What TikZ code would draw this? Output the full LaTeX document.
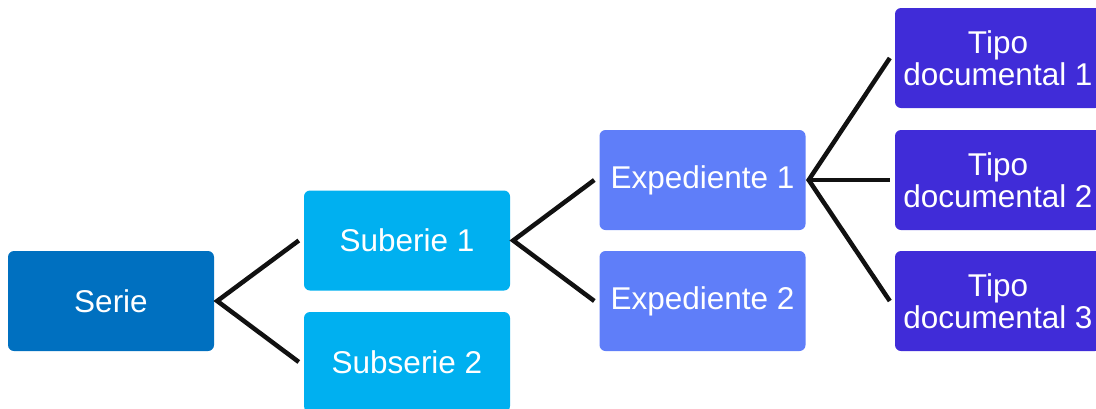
\documentclass[tikz,border=0pt]{standalone}
\usepackage{fontspec}
\setmainfont{Liberation Sans}
\definecolor{cserie}{HTML}{0070C0}
\definecolor{csub}{HTML}{00B0F0}
\definecolor{cexp}{HTML}{5F7EF9}
\definecolor{ctipo}{HTML}{402CD8}
\definecolor{cline}{HTML}{111111}
\tikzset{
  box/.style={minimum width=206pt, minimum height=100pt, inner sep=0pt,
    rounded corners=6pt, text=white, align=center,
    font=\fontsize{31.5}{32}\selectfont},
  conn/.style={draw=cline, line width=4.5pt, line join=miter}
}
\begin{document}
\begin{tikzpicture}[x=1pt,y=-1pt]
\useasboundingbox (0,0) rectangle (1096,408);
\node[box, fill=cserie] (serie) at (111,301) {Serie};
\node[box, fill=csub] (sub1) at (407,240.5) {Suberie 1};
\node[box, fill=csub] (sub2) at (407,362) {Subserie 2};
\node[box, fill=cexp] (exp1) at (702.5,180) {Expediente 1};
\node[box, fill=cexp] (exp2) at (702.5,301) {Expediente 2};
\node[box, fill=ctipo] (t1) at (998,58) {Tipo\\documental 1};
\node[box, fill=ctipo] (t2) at (998,180) {Tipo\\documental 2};
\node[box, fill=ctipo] (t3) at (998,301) {Tipo\\documental 3};
\draw[conn] ([xshift=-5pt]sub1.west) -- ([xshift=3pt]serie.east) -- ([xshift=-5pt]sub2.west);
\draw[conn] ([xshift=-5pt]exp1.west) -- ([xshift=3pt]sub1.east) -- ([xshift=-5pt]exp2.west);
\draw[conn] ([xshift=-5pt]t1.west) -- ([xshift=3pt]exp1.east) -- ([xshift=-5pt]t3.west);
\draw[conn] ([xshift=3pt]exp1.east) -- ([xshift=-5pt]t2.west);
\end{tikzpicture}
\end{document}
